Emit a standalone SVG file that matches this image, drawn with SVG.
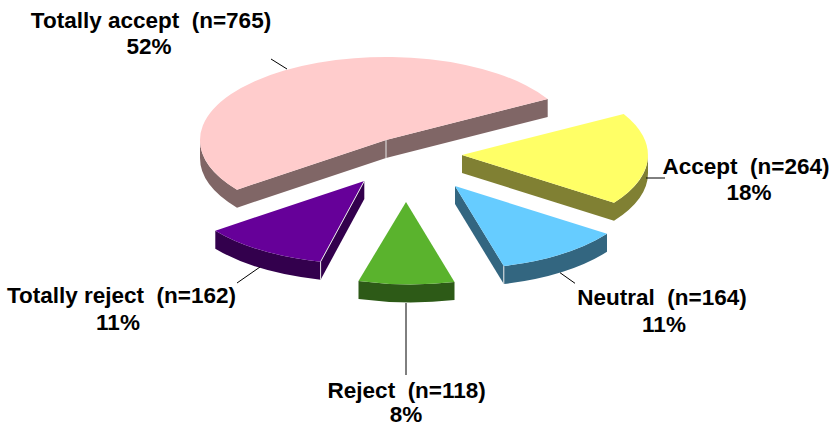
<svg xmlns="http://www.w3.org/2000/svg" width="837" height="427" viewBox="0 0 837 427">
<style>
text{font-family:"Liberation Sans",Arial,sans-serif;font-weight:bold;font-size:22.5px;fill:#000;text-anchor:middle;white-space:pre}
.lead{stroke:#000;stroke-width:1;fill:none}
.hl{stroke:#e8e8e8;stroke-width:1}
</style>
<rect width="837" height="427" fill="#fff"/>
<g id="slice-totally-accept">
<path d="M237,189.7 A186 83 0 0 1 200,140 L200,158 A186 83 0 0 0 237,207.7 Z" fill="#806666"/>
<path d="M386,140 L237,189.7 L237,207.7 L386,158 Z" fill="#806666"/>
<path d="M386,140 L547.7,99 L547.7,117 L386,158 Z" fill="#806666"/>
<path d="M386,140 L237,189.7 A186 83 0 1 1 547.7,99 Z" fill="#FFCCCC"/>
<line class="hl" x1="386" y1="140" x2="386" y2="158" stroke="#a89494"/>
</g>
<g id="slice-accept">
<path d="M648,155 A186 83 0 0 1 614,202.8 L614,220.8 A186 83 0 0 0 648,173 Z" fill="#808033"/>
<path d="M462,155 L614,202.8 L614,220.8 L462,173 Z" fill="#808033"/>
<path d="M462,155 L623.7,114 A186 83 0 0 1 614,202.8 Z" fill="#FFFF66"/>
</g>
<g id="slice-totally-reject">
<path d="M320.6,261.7 A186 83 0 0 1 215.3,230.7 L215.3,248.7 A186 83 0 0 0 320.6,279.7 Z" fill="#33004D"/>
<path d="M364.3,181 L320.6,261.7 L320.6,279.7 L364.3,199 Z" fill="#33004D"/>
<path d="M364.3,181 L320.6,261.7 A186 83 0 0 1 215.3,230.7 Z" fill="#660099"/>
<line class="hl" x1="320.6" y1="261.7" x2="320.6" y2="279.7"/>
<line class="hl" x1="364.3" y1="181" x2="320.6" y2="261.7" stroke="#9a70b8" stroke-width="0.8"/>
</g>
<g id="slice-neutral">
<path d="M607,233.8 A186 83 0 0 1 503.8,266.1 L503.8,284.1 A186 83 0 0 0 607,251.8 Z" fill="#336680"/>
<path d="M455,186 L503.8,266.1 L503.8,284.1 L455,204 Z" fill="#336680"/>
<path d="M455,186 L607,233.8 A186 83 0 0 1 503.8,266.1 Z" fill="#66CCFF"/>
<line class="hl" x1="503.8" y1="266.1" x2="503.8" y2="284.1"/>
</g>
<g id="slice-reject">
<path d="M454.5,282 A186 83 0 0 1 358.5,281 L358.5,299 A186 83 0 0 0 454.5,300 Z" fill="#2D5A17"/>
<path d="M406,202 L454.5,282 A186 83 0 0 1 358.5,281 Z" fill="#5AB32D"/>
</g>
<g id="connectors">
<line class="lead" x1="271" y1="59" x2="287" y2="69"/>
<line class="lead" x1="646" y1="178" x2="665" y2="178"/>
<line class="lead" x1="560" y1="272.7" x2="575" y2="283.3"/>
<line class="lead" x1="237" y1="283" x2="260" y2="267"/>
<line class="lead" x1="406" y1="303" x2="406" y2="375" stroke="#444"/>
</g>
<g id="label-totally-accept">
<text x="151" y="28" xml:space="preserve">Totally accept  (n=765)</text>
<text x="149" y="54">52%</text>
</g>
<g id="label-accept">
<text x="746" y="173.5" xml:space="preserve">Accept  (n=264)</text>
<text x="749" y="200">18%</text>
</g>
<g id="label-neutral">
<text x="662" y="305" xml:space="preserve">Neutral  (n=164)</text>
<text x="664" y="331.5">11%</text>
</g>
<g id="label-totally-reject">
<text x="121.5" y="303" xml:space="preserve">Totally reject  (n=162)</text>
<text x="118" y="330">11%</text>
</g>
<g id="label-reject">
<text x="406.7" y="398" xml:space="preserve">Reject  (n=118)</text>
<text x="406" y="422">8%</text>
</g>
</svg>
